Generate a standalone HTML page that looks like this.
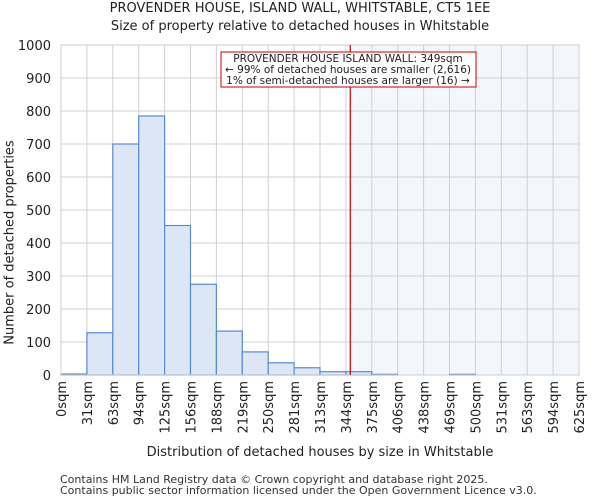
<!DOCTYPE html>
<html><head><meta charset="utf-8"><style>
body{margin:0;background:#fff;font-family:"DejaVu Sans","Liberation Sans",sans-serif}
svg text{font-family:"DejaVu Sans","Liberation Sans",sans-serif;fill:#222}
</style></head><body>
<svg id="c" width="600" height="500"></svg>
<script>
const categories=["0sqm","31sqm","63sqm","94sqm","125sqm","156sqm","188sqm","219sqm","250sqm","281sqm","313sqm","344sqm","375sqm","406sqm","438sqm","469sqm","500sqm","531sqm","563sqm","594sqm","625sqm"];
const counts=[3,128,700,785,453,275,133,70,37,22,10,10,2,0,0,2,0,0,0,0];
const yTicks=[0,100,200,300,400,500,600,700,800,900,1000];
const markerValue=349;
const xMaxValue=625;
const L=61,R=579,T=45,B=375,yMax=1000;
const svg=document.getElementById('c');const NS='http://www.w3.org/2000/svg';
function el(t,a,p){const e=document.createElementNS(NS,t);for(const k in a)e.setAttribute(k,a[k]);(p||svg).appendChild(e);return e;}
const bw=(R-L)/counts.length;
const xs=i=>L+i*bw; const xv=v=>L+v/xMaxValue*(R-L); const y=v=>B-v/yMax*(B-T);
const mx=xv(markerValue);
let e=el('rect',{x:mx,y:T,width:R-mx,height:B-T,fill:'#f3f6fd'});


yTicks.forEach(t=>{let g=el('line',{x1:L,x2:R,y1:y(t),y2:y(t),stroke:'#d0d0d0'});


let tx=el('text',{x:L-10,y:y(t)+5,'text-anchor':'end','font-size':13});tx.textContent=t;

});
categories.forEach((c,i)=>{let g=el('line',{x1:xs(i),x2:xs(i),y1:T,y2:B,stroke:'#d0d0d0'});


let tx=el('text',{transform:`translate(${xs(i)+5},${B+6}) rotate(-90)`,'text-anchor':'end','font-size':13});tx.textContent=c;

});
counts.forEach((v,i)=>{let r=el('rect',{x:xs(i),y:y(v),width:bw,height:B-y(v),fill:'#dce6f4',stroke:'#5a8ad0','stroke-width':1.2});

});
el('rect',{x:L,y:T,width:R-L,height:B-T,fill:'none',stroke:'#ccc'});
e=el('line',{x1:mx,x2:mx,y1:T,y2:B,stroke:'#c00','stroke-width':1.2});


e=el('rect',{x:221,y:52,width:255,height:35,fill:'#fff',stroke:'#c00'});


[["PROVENDER HOUSE ISLAND WALL: 349sqm",62],["← 99% of detached houses are smaller (2,616)",73],["1% of semi-detached houses are larger (16) →",84]].forEach(a=>{let t=el('text',{x:348,y:a[1],'text-anchor':'middle','font-size':10.5});t.textContent=a[0];

});
</script>
<div style="position:absolute;top:0;left:0;width:600px;text-align:center;font-size:13px;line-height:18px;color:#222">PROVENDER HOUSE, ISLAND WALL, WHITSTABLE, CT5 1EE<br>Size of property relative to detached houses in Whitstable</div>
<div style="position:absolute;top:445px;left:0;width:640px;text-align:center;font-size:13px;color:#222">Distribution of detached houses by size in Whitstable</div>
<div style="position:absolute;top:235px;left:-110px;width:240px;white-space:nowrap;transform:rotate(-90deg);text-align:center;font-size:13px;color:#222">Number of detached properties</div>
<div style="position:absolute;top:474px;left:60px;font-size:11px;line-height:11px;color:#333">Contains HM Land Registry data © Crown copyright and database right 2025.<br>Contains public sector information licensed under the Open Government Licence v3.0.</div>
</body></html>
